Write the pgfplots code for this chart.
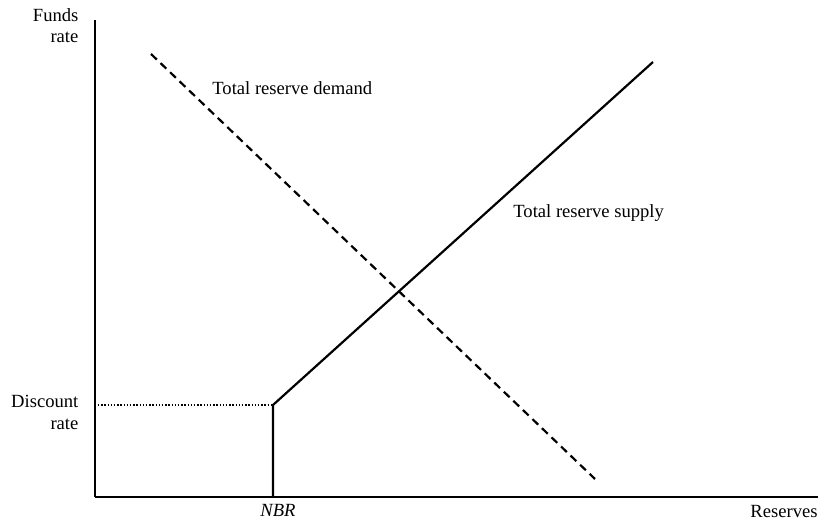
\documentclass[border=0pt]{standalone}
\usepackage{fontspec}
\setmainfont{Liberation Serif}
\usepackage{pgfplots}
\pgfplotsset{compat=1.18}

\begin{document}
\fontsize{9.3}{10.5}\selectfont
\begin{tikzpicture}
  \begin{axis}[
      scale only axis,
      width=361.5pt,
      height=238.5pt,
      xmin=0, xmax=723,
      ymin=0, ymax=477,
      axis lines=left,
      axis line style={-, line width=0.8pt},
      ticks=none,
      clip=false,
    ]
    % total reserve demand
    \addplot[black, line width=1.1pt, dash pattern=on 4pt off 2.6pt] coordinates {
      (56,443) (500,18)
    };
    % total reserve supply: vertical at NBR, then rising
    \addplot[black, line width=1.1pt] coordinates {
      (178,0) (178,92) (558,435)
    };
    % discount rate guide
    \addplot[black, line width=0.7pt, dash pattern=on 0.7pt off 0.9pt] coordinates {
      (3,92) (178,92)
    };

    \node[anchor=base east] at (axis cs:-10,475) {Funds};
    \node[anchor=base east] at (axis cs:-10,454) {rate};
    \node[anchor=base east] at (axis cs:-10,89) {Discount};
    \node[anchor=base east] at (axis cs:-10,67) {rate};
    \node[anchor=base] at (axis cs:183,-20) {\textit{NBR}};
    \node[anchor=base east, inner xsep=0pt] at (axis cs:723,-21) {Reserves};
    \node[anchor=base west, inner xsep=0pt] at (axis cs:117,402) {Total reserve demand};
    \node[anchor=base west, inner xsep=0pt] at (axis cs:418,279) {Total reserve supply};

    \path (axis cs:-95,-25) rectangle (axis cs:730,497);
  \end{axis}
\end{tikzpicture}
\end{document}
